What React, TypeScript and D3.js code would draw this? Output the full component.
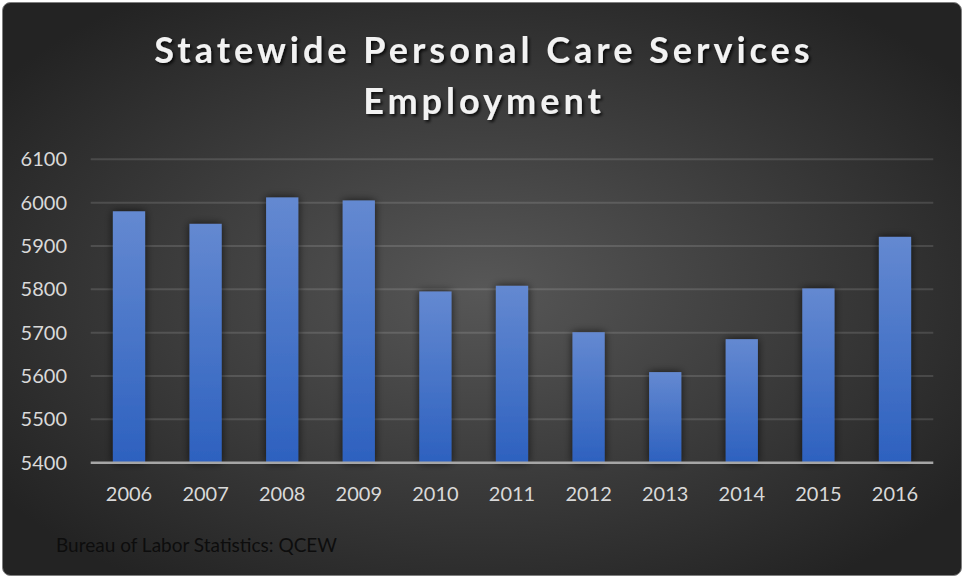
import React from "react";
import * as d3 from "d3";

const years = ["2006","2007","2008","2009","2010","2011","2012","2013","2014","2015","2016"];
const employment = [5980, 5951, 6012, 6005, 5795, 5808, 5701, 5609, 5685, 5802, 5921];
const yTicks = [5400, 5500, 5600, 5700, 5800, 5900, 6000, 6100];
const titleLines = ["Statewide Personal Care Services", "Employment"];
const sourceNote = "Bureau of Labor Statistics: QCEW";

const W = 964, H = 578;
const plot = { left: 90.7, right: 933.3, top: 159.3, bottom: 462.7 };

export default function App() {
  const x = d3.scaleBand<string>().domain(years).range([plot.left, plot.right]).paddingInner(0.58).paddingOuter(0.29);
  const y = d3.scaleLinear().domain([5400, 6100]).range([plot.bottom, plot.top]);
  const font = "Lato, 'Open Sans', sans-serif";
  return (
    <svg width={W} height={H} style={{ position: "absolute", left: 0, top: 0, display: "block" }}>
      <defs>
        <radialGradient id="bg" cx="0.5" cy="0.5" r="0.62" gradientUnits="objectBoundingBox">
          <stop offset="0" stopColor="#575757" />
          <stop offset="1" stopColor="#232323" />
        </radialGradient>
        <linearGradient id="bar" x1="0" y1="0" x2="0" y2="1">
          <stop offset="0" stopColor="#6489d1" />
          <stop offset="1" stopColor="#2d61bf" />
        </linearGradient>
        <filter id="shadow" x="-50%" y="-20%" width="200%" height="140%">
          <feGaussianBlur in="SourceAlpha" stdDeviation="4" />
          <feOffset dx="0" dy="0" result="b" />
          <feComponentTransfer><feFuncA type="linear" slope="0.7" /></feComponentTransfer>
          <feMerge><feMergeNode /><feMergeNode in="SourceGraphic" /></feMerge>
        </filter>
        <filter id="tshadow" x="-10%" y="-30%" width="120%" height="160%">
          <feGaussianBlur in="SourceAlpha" stdDeviation="1.5" />
          <feOffset dx="1.5" dy="2" />
          <feComponentTransfer><feFuncA type="linear" slope="0.8" /></feComponentTransfer>
          <feMerge><feMergeNode /><feMergeNode in="SourceGraphic" /></feMerge>
        </filter>
      </defs>
      <rect x={0} y={0} width={W} height={H} fill="#ffffff" />
      <rect x={2.5} y={2.5} width={959} height={573} rx={8} fill="url(#bg)" stroke="#7f7f7f" strokeWidth={1} />
      <text textAnchor="middle" fill="#f2f2f2" fontFamily={font} fontWeight={700} fontSize={36} letterSpacing={4} filter="url(#tshadow)">
        <tspan x={484} y={63}>{titleLines[0]}</tspan>
        <tspan x={484} y={114}>{titleLines[1]}</tspan>
      </text>
      {yTicks.map(t => (
        <g key={t}>
          {t !== 5400 && <line x1={plot.left} x2={plot.right} y1={y(t)} y2={y(t)} stroke="#ffffff" strokeOpacity={0.13} strokeWidth={2} />}
          <text x={67} y={y(t)} dy="0.35em" textAnchor="end" fill="#d9d9d9" fontFamily={font} fontSize={20}>{t}</text>
        </g>
      ))}
      {years.map((yr, i) => (
        <rect key={yr} x={x(yr)} y={y(employment[i])} width={x.bandwidth()} height={plot.bottom - y(employment[i])} fill="url(#bar)" filter="url(#shadow)" />
      ))}
      <line x1={plot.left} x2={plot.right} y1={plot.bottom} y2={plot.bottom} stroke="#a6a6a6" strokeWidth={2.5} />
      {years.map(yr => (
        <text key={yr} x={(x(yr) as number) + x.bandwidth() / 2} y={501} textAnchor="middle" fill="#d9d9d9" fontFamily={font} fontSize={20}>{yr}</text>
      ))}
      <text x={56} y={552} fill="#0d0d0d" fontFamily={font} fontSize={19}>{sourceNote}</text>
    </svg>
  );
}
